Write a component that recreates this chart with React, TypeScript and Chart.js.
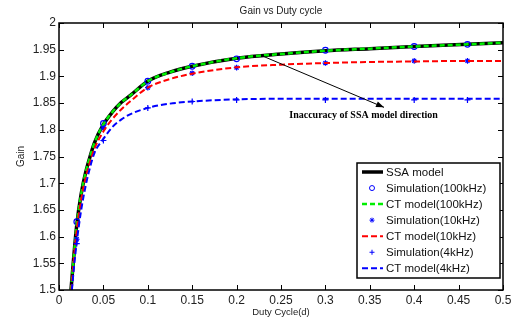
import React, { useEffect, useRef } from "react";
import { Chart, registerables } from "chart.js";

Chart.register(...registerables);

// ---- data ----
const ssaDuty = [0.0135, 0.016, 0.02, 0.025, 0.03, 0.035, 0.04, 0.05, 0.06, 0.07, 0.08, 0.1, 0.125, 0.15, 0.2, 0.25, 0.3, 0.35, 0.4, 0.46, 0.5];
const ssaGain = [1.5, 1.55, 1.622, 1.68, 1.72, 1.75, 1.776, 1.81, 1.833, 1.851, 1.864, 1.891, 1.908, 1.919, 1.934, 1.942, 1.948, 1.952, 1.956, 1.96, 1.963];

const ct100Duty = [0.0135, 0.016, 0.02, 0.025, 0.03, 0.035, 0.04, 0.05, 0.06, 0.07, 0.08, 0.1, 0.125, 0.15, 0.2, 0.25, 0.3, 0.35, 0.4, 0.46, 0.5];
const ct100Gain = [1.5, 1.55, 1.622, 1.68, 1.72, 1.75, 1.776, 1.81, 1.833, 1.851, 1.864, 1.891, 1.908, 1.919, 1.934, 1.942, 1.948, 1.952, 1.956, 1.96, 1.963];

const ct10Duty = [0.0138, 0.016, 0.02, 0.025, 0.03, 0.035, 0.04, 0.05, 0.06, 0.07, 0.08, 0.1, 0.125, 0.15, 0.2, 0.25, 0.3, 0.35, 0.4, 0.46, 0.5];
const ct10Gain = [1.5, 1.545, 1.612, 1.67, 1.71, 1.74, 1.765, 1.797, 1.82, 1.838, 1.853, 1.879, 1.895, 1.905, 1.917, 1.922, 1.925, 1.927, 1.928, 1.929, 1.929];

const ct4Duty = [0.0145, 0.017, 0.02, 0.025, 0.03, 0.035, 0.04, 0.05, 0.06, 0.07, 0.08, 0.1, 0.125, 0.15, 0.2, 0.25, 0.3, 0.4, 0.5];
const ct4Gain = [1.5, 1.545, 1.59, 1.65, 1.695, 1.73, 1.757, 1.783, 1.805, 1.819, 1.829, 1.841, 1.849, 1.853, 1.857, 1.858, 1.858, 1.858, 1.858];

const simDuty = [0.02, 0.05, 0.1, 0.15, 0.2, 0.3, 0.4, 0.46];
const sim100Gain = [1.628, 1.812, 1.891, 1.919, 1.933, 1.949, 1.956, 1.96];
const sim10Gain = [1.595, 1.803, 1.879, 1.906, 1.9165, 1.925, 1.929, 1.929];
const sim4Gain = [1.587, 1.78, 1.841, 1.853, 1.856, 1.856, 1.856, 1.856];

const seriesLabels = [
  "SSA model",
  "Simulation(100kHz)",
  "CT model(100kHz)",
  "Simulation(10kHz)",
  "CT model(10kHz)",
  "Simulation(4kHz)",
  "CT model(4kHz)",
];

const titleText = "Gain vs Duty cycle";
const xTitle = "Duty Cycle(d)";
const yTitle = "Gain";
const noteText = "Inaccuracy of SSA model direction";
const arrowFrom = { x: 0.2288, y: 1.9385 };
const arrowTo = { x: 0.366, y: 1.842 };
const noteAt = { x: 0.343, y: 1.8274 };

const BLUE = "#0000ff";
const RED = "#ff0000";
const GREEN = "#00ee00";

const zip = (xs: number[], ys: number[]) => xs.map((x, i) => ({ x, y: ys[i] }));

const fmt = (v: number) => String(+Number(v).toFixed(2));

function drawMarker(ctx: CanvasRenderingContext2D, kind: string, x: number, y: number, r: number) {
  ctx.beginPath();
  if (kind === "circle") {
    ctx.arc(x, y, r, 0, Math.PI * 2);
  } else if (kind === "star") {
    ctx.moveTo(x - r, y); ctx.lineTo(x + r, y);
    ctx.moveTo(x, y - r); ctx.lineTo(x, y + r);
    const d = r * 0.707;
    ctx.moveTo(x - d, y - d); ctx.lineTo(x + d, y + d);
    ctx.moveTo(x - d, y + d); ctx.lineTo(x + d, y - d);
  } else {
    ctx.moveTo(x - r, y); ctx.lineTo(x + r, y);
    ctx.moveTo(x, y - r); ctx.lineTo(x, y + r);
  }
  ctx.stroke();
}

const decor = {
  id: "decor",
  afterDatasetsDraw(chart: any) {
    const { ctx, scales } = chart;
    const x = scales.x, y = scales.y;
    const x0 = x.getPixelForValue(arrowFrom.x), y0 = y.getPixelForValue(arrowFrom.y);
    const x1 = x.getPixelForValue(arrowTo.x), y1 = y.getPixelForValue(arrowTo.y);
    ctx.save();
    ctx.strokeStyle = "#000";
    ctx.fillStyle = "#000";
    ctx.lineWidth = 1;
    ctx.beginPath();
    ctx.moveTo(x0, y0);
    ctx.lineTo(x1, y1);
    ctx.stroke();
    const ang = Math.atan2(y1 - y0, x1 - x0);
    const L = 8, Wd = 3;
    ctx.beginPath();
    ctx.moveTo(x1, y1);
    ctx.lineTo(x1 - L * Math.cos(ang) + Wd * Math.sin(ang), y1 - L * Math.sin(ang) - Wd * Math.cos(ang));
    ctx.lineTo(x1 - L * Math.cos(ang) - Wd * Math.sin(ang), y1 - L * Math.sin(ang) + Wd * Math.cos(ang));
    ctx.closePath();
    ctx.fill();
    ctx.font = 'bold 10px "Liberation Serif"';
    ctx.textAlign = "center";
    ctx.textBaseline = "middle";
    ctx.fillText(noteText, x.getPixelForValue(noteAt.x), y.getPixelForValue(noteAt.y));
    ctx.restore();
  },
  afterDraw(chart: any) {
    const { ctx, chartArea: a, scales } = chart;
    const x = scales.x, y = scales.y;
    ctx.save();
    ctx.strokeStyle = "#000";
    ctx.lineWidth = 1;
    ctx.beginPath();
    for (const t of x.ticks) {
      const px = Math.round(x.getPixelForValue(t.value)) + 0.5;
      ctx.moveTo(px, a.top); ctx.lineTo(px, a.top + 5);
      ctx.moveTo(px, a.bottom); ctx.lineTo(px, a.bottom - 5);
    }
    for (const t of y.ticks) {
      const py = Math.round(y.getPixelForValue(t.value)) + 0.5;
      ctx.moveTo(a.left, py); ctx.lineTo(a.left + 5, py);
      ctx.moveTo(a.right, py); ctx.lineTo(a.right - 5, py);
    }
    ctx.stroke();
    ctx.lineWidth = 1.5;
    ctx.strokeRect(a.left, a.top, a.right - a.left, a.bottom - a.top);

    // titles
    ctx.fillStyle = "#222";
    ctx.textAlign = "center";
    ctx.textBaseline = "middle";
    ctx.font = '10px "Liberation Sans"';
    ctx.fillText(titleText, (a.left + a.right) / 2, 11);
    ctx.font = '9.5px "Liberation Sans"';
    ctx.fillText(xTitle, (a.left + a.right) / 2, 312);
    ctx.save();
    ctx.translate(21, (a.top + a.bottom) / 2);
    ctx.rotate(-Math.PI / 2);
    ctx.font = '10px "Liberation Sans"';
    ctx.fillText(yTitle, 0, 0);
    ctx.restore();

    // legend
    const bx = a.right - 146, by = a.bottom - 127, bw = 143, bh = 115;
    ctx.fillStyle = "#fff";
    ctx.fillRect(bx, by, bw, bh);
    ctx.lineWidth = 1.5;
    ctx.strokeStyle = "#000";
    ctx.strokeRect(bx, by, bw, bh);
    const ds = chart.data.datasets;
    ctx.font = '11.5px "Liberation Sans"';
    ctx.textAlign = "left";
    for (let i = 0; i < ds.length; i++) {
      const d = ds[i];
      const ry = by + 9 + i * 16.05;
      if (d.showLine === false) {
        ctx.strokeStyle = d.pointBorderColor;
        ctx.lineWidth = 1;
        ctx.setLineDash([]);
        drawMarker(ctx, d.pointStyle, bx + 15, ry, d.pointStyle === "circle" ? 2.5 : 2.5);
      } else {
        ctx.strokeStyle = d.borderColor;
        ctx.lineWidth = d.borderWidth;
        ctx.setLineDash(d.borderDash || []);
        ctx.beginPath();
        ctx.moveTo(bx + 5, ry);
        ctx.lineTo(bx + 26, ry);
        ctx.stroke();
        ctx.setLineDash([]);
      }
      ctx.fillStyle = "#111";
      ctx.fillText(d.label, bx + 29, ry + 0.5);
    }
    ctx.restore();
  },
};

export default function App() {
  const ref = useRef<HTMLCanvasElement | null>(null);
  useEffect(() => {
    if (!ref.current) return;
    const lineDs = (label: string, data: any[], color: string, width: number, dash: number[] | undefined, order: number) => ({
      label,
      data,
      borderColor: color,
      backgroundColor: color,
      borderWidth: width,
      borderDash: dash,
      pointRadius: 0,
      pointHoverRadius: 0,
      cubicInterpolationMode: "monotone",
      fill: false,
      order,
    });
    const ptDs = (label: string, data: any[], style: string, r: number, order: number) => ({
      label,
      data,
      showLine: false,
      pointStyle: style,
      pointRadius: r,
      pointBorderColor: BLUE,
      pointBackgroundColor: "rgba(0,0,0,0)",
      pointBorderWidth: 1.2,
      borderColor: BLUE,
      order,
    });
    const chart = new Chart(ref.current, {
      type: "line",
      data: {
        datasets: [
          lineDs(seriesLabels[0], zip(ssaDuty, ssaGain), "#000", 3.5, undefined, 0),
          ptDs(seriesLabels[1], zip(simDuty, sim100Gain), "circle", 2.8, -1),
          lineDs(seriesLabels[2], zip(ct100Duty, ct100Gain), GREEN, 2.5, [5, 3], -2),
          ptDs(seriesLabels[3], zip(simDuty, sim10Gain), "star", 2.8, -3),
          lineDs(seriesLabels[4], zip(ct10Duty, ct10Gain), RED, 2, [6, 3], -4),
          ptDs(seriesLabels[5], zip(simDuty, sim4Gain), "cross", 3, -5),
          lineDs(seriesLabels[6], zip(ct4Duty, ct4Gain), BLUE, 2, [6, 3], -6),
        ] as any,
      },
      options: {
        responsive: false,
        animation: false,
        devicePixelRatio: 1,
        layout: { padding: { left: 0, right: 12, top: 23, bottom: 0 } },
        plugins: { legend: { display: false }, title: { display: false }, tooltip: { enabled: false } },
        events: [],
        scales: {
          x: {
            type: "linear",
            min: 0,
            max: 0.5,
            grid: { display: false, drawTicks: false },
            border: { display: false },
            ticks: {
              stepSize: 0.05,
              padding: 3,
              color: "#222",
              font: { family: "Liberation Sans", size: 12 },
              callback: (v: any) => fmt(v),
              maxRotation: 0,
              autoSkip: false,
            },
            afterFit: (s: any) => { s.height = 30; },
          },
          y: {
            type: "linear",
            min: 1.5,
            max: 2,
            grid: { display: false, drawTicks: false },
            border: { display: false },
            ticks: {
              stepSize: 0.05,
              padding: 3,
              color: "#222",
              font: { family: "Liberation Sans", size: 12 },
              callback: (v: any) => fmt(v),
              autoSkip: false,
            },
            afterFit: (s: any) => { s.width = 59; },
          },
        },
      },
      plugins: [decor],
    });
    return () => chart.destroy();
  }, []);
  return (
    <div style={{ position: "absolute", left: 0, top: 0, width: 515, height: 320, background: "#fff" }}>
      <canvas ref={ref} width={515} height={320} style={{ display: "block", width: 515, height: 320 }} />
    </div>
  );
}
